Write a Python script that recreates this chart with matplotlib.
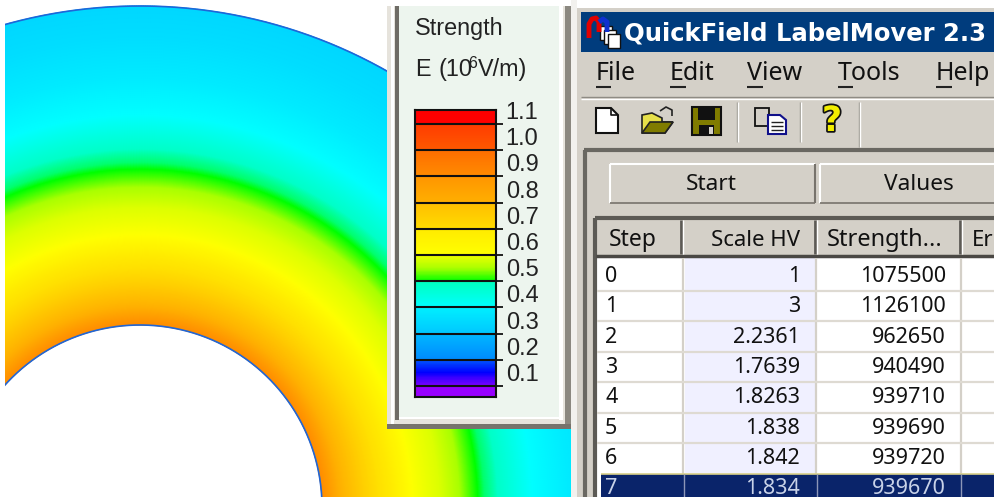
import matplotlib
matplotlib.use("Agg")
import matplotlib.pyplot as plt
import matplotlib.patheffects as pe
from matplotlib.patches import Rectangle, Polygon
from matplotlib.colors import LinearSegmentedColormap
import numpy as np

# strength read along a radius of the ring (pixels from the centre, 10^6 V/m)
radius_px = [182, 200, 225, 250, 272, 300, 320, 338, 355, 375, 392, 430, 470, 501]
strength = [0.90, 0.82, 0.74, 0.67, 0.60, 0.58, 0.55, 0.50, 0.475, 0.44, 0.41, 0.38, 0.36, 0.35]

# colours of the ring
field_values = [0.3, 0.35, 0.41, 0.47, 0.49, 0.5, 0.55, 0.6, 0.7, 0.8, 0.9]
field_colors = [(0, 190, 255), (0, 215, 255), (0, 255, 255), (0, 255, 200), (0, 255, 110), (0, 255, 0),
                (170, 255, 0), (255, 255, 0), (255, 225, 0), (255, 185, 0), (255, 140, 0)]

# colour scale
scale_values = [-0.05, 0.1, 0.101, 0.13, 0.15, 0.2, 0.201, 0.3, 0.301, 0.4, 0.401, 0.499, 0.5,
                0.55, 0.6, 0.601, 0.7, 0.701, 0.8, 0.801, 0.9, 0.901, 1.0, 1.001, 1.1, 1.101, 1.16]
scale_colors = [(160, 0, 255), (150, 0, 255), (120, 0, 255), (60, 0, 255), (0, 0, 255), (0, 90, 255),
                (0, 140, 255), (0, 185, 255), (0, 200, 255), (0, 240, 255), (0, 255, 255), (0, 255, 190),
                (0, 255, 0), (170, 255, 0), (240, 255, 0), (255, 255, 0), (255, 235, 0),
                (255, 220, 0), (255, 190, 0), (255, 175, 0), (255, 150, 0), (255, 140, 0), (255, 110, 0),
                (255, 90, 0), (255, 60, 0), (255, 0, 0), (255, 0, 0)]
legend_ticks = [0.1, 0.2, 0.3, 0.4, 0.5, 0.6, 0.7, 0.8, 0.9, 1.0, 1.1]

# table
steps = ["0", "1", "2", "3", "4", "5", "6", "7"]
scale_hv = ["1", "3", "2.2361", "1.7639", "1.8263", "1.838", "1.842", "1.834"]
strengths = ["1075500", "1126100", "962650", "940490", "939710", "939690", "939720", "939670"]
menu_items = ["File", "Edit", "View", "Tools", "Help"]

GRAY = "#d4d0c8"
NAVY = "#0a246a"
UI_FONT = "Noto Sans"


def make_cmap(name, values, colors):
    lo, hi = values[0], values[-1]
    pos = [(v - lo) / (hi - lo) for v in values]
    cols = [(r / 255, g / 255, b / 255) for r, g, b in colors]
    return LinearSegmentedColormap.from_list(name, list(zip(pos, cols)), N=2048)


legend_cmap = make_cmap("legend", scale_values, scale_colors)
field_cmap = make_cmap("field", field_values, field_colors)

fig = plt.figure(figsize=(9.95, 4.97), dpi=100, facecolor="white")
ax = fig.add_axes([0, 0, 1, 1])
ax.set_xlim(0, 995)
ax.set_ylim(497, 0)
ax.axis("off")


def rect(x0, y0, x1, y1, color, z=3):
    ax.add_patch(Rectangle((x0, y0), x1 - x0, y1 - y0, facecolor=color, edgecolor="none", zorder=z))


def line(xs, ys, color, lw=1.0, z=5):
    ax.plot(xs, ys, color=color, lw=lw, zorder=z, solid_capstyle="butt")


def label(x, y, s, ha="left", color="#111111", size=15.5, weight="normal", family=UI_FONT, z=7):
    return ax.text(x, y + 1.5, s, ha=ha, va="center", color=color, fontsize=size, fontweight=weight,
                   family=family, zorder=z)


# field ring
cx, cy = 140, 507
rr = np.linspace(radius_px[0], radius_px[-1], 320)
tt = np.linspace(0, np.pi, 700)
R, T = np.meshgrid(rr, tt)
field = np.interp(R, radius_px, strength)
clip = Rectangle((5, 0), 570, 497, transform=ax.transData)
mesh = ax.pcolormesh(cx + R * np.cos(T), cy - R * np.sin(T), field, cmap=field_cmap,
                     vmin=field_values[0], vmax=field_values[-1], shading="gouraud", zorder=1)
mesh.set_clip_path(clip)
for r0 in (radius_px[0], radius_px[-1]):
    arc, = ax.plot(cx + r0 * np.cos(tt), cy - r0 * np.sin(tt), color="#1f66d8", lw=1.2, zorder=2)
    arc.set_clip_path(clip)

# legend panel
rect(387, 6, 571, 429, "#e6e3dc")
rect(387, 424, 571, 429, "#77736c")
rect(391, 6, 394, 424, "#ffffff")
rect(395, 6, 399, 420, "#6f6c66")
rect(399, 6, 559, 417, "#edf5ee")
rect(399, 417, 559, 419, "#ffffff")
rect(559, 6, 563, 420, "#ffffff")
rect(565, 6, 571, 424, "#8b8880")
label(415, 27, "Strength", family="Liberation Sans", size=16.8, color="#222222")
label(415, 68, "E", family="Liberation Sans", size=16.8, color="#222222")
label(438, 68, "(10", family="Liberation Sans", size=16.8, color="#222222")
label(468, 62, "6", family="Liberation Sans", size=11.5, color="#222222")
label(478, 68, "V/m)", family="Liberation Sans", size=16.8, color="#222222")

# colour bar, on its own axes so the ticks come from the strength scale
bar_top, bar_bottom = 110, 397
cax = fig.add_axes([415 / 995, 1 - bar_bottom / 497, 81 / 995, (bar_bottom - bar_top) / 497], zorder=4)
y_low = 0.1 - (bar_bottom - 386) / 262
y_high = 0.1 + (386 - bar_top) / 262
vals = np.linspace(y_low, y_high, 500).reshape(-1, 1)
cax.imshow(vals, cmap=legend_cmap, vmin=scale_values[0], vmax=scale_values[-1], origin="lower", aspect="auto",
           extent=(0, 1, y_low, y_high), interpolation="nearest")
cax.hlines(legend_ticks, 0, 1, color="#111111", lw=1.5)
cax.set_xticks([])
cax.yaxis.tick_right()
cax.set_yticks(legend_ticks)
cax.set_yticklabels([f"{v:.1f}" for v in legend_ticks], family="Liberation Sans", fontsize=17, va="bottom",
                    color="#222222")
cax.tick_params(axis="y", length=5, width=1.3, pad=2, color="#111111")
for s in cax.spines.values():
    s.set_linewidth(1.5)
    s.set_color("#111111")

# application window
rect(571, 0, 577, 497, "#f2f1ee")
rect(577, 8, 995, 497, GRAY)
rect(581, 12, 995, 52, "#003c7d")
label(624, 31.5, "QuickField LabelMover 2.3", color="white", size=17.5, weight="bold", family="DejaVu Sans")

# title bar icon
for x0, y0 in ((600, 26), (604, 30), (608, 34)):
    ax.add_patch(Rectangle((x0, y0), 12, 14, facecolor="white", edgecolor="#111111", lw=1, zorder=5))
line([589, 589, 592, 596, 599, 599], [38, 24, 19, 18, 22, 32], "#e00000", 3.5, z=6)
line([599, 603, 607, 607], [22, 19, 22, 32], "#1030d0", 3.5, z=6)

# menu bar
for name, x, ux in zip(menu_items, (596, 670, 747, 838, 936), ((596, 611), (670, 686), (747, 763), (838, 853), (936, 952))):
    label(x, 71.5, name, size=18)
    line(ux, [87, 87], "#222222", 1.5)
line([581, 995], [97, 97], "#8e8b84", 1)
line([581, 995], [99, 99], "#ffffff", 1)

# toolbar icons
ax.add_patch(Polygon([(596, 108), (611, 108), (618, 115), (618, 133), (596, 133)], facecolor="white",
                     edgecolor="#111111", lw=1.5, zorder=5))
line([611, 611, 618], [108, 115, 115], "#111111", 1.2, z=6)
ax.add_patch(Polygon([(642, 133), (642, 115), (652, 113), (662, 118), (662, 122), (673, 122), (665, 133)],
                     facecolor="#e6e04a", edgecolor="#222222", lw=1.2, zorder=5))
ax.add_patch(Polygon([(642, 133), (650, 122), (673, 122), (665, 133)], facecolor="#807c00",
                     edgecolor="#222222", lw=1.2, zorder=6))
line([660, 666, 672, 672], [111, 107, 110, 116], "#222222", 1.2)
rect(692, 107, 721, 135, "#807c00", z=5)
ax.add_patch(Rectangle((692, 107), 29, 28, facecolor="none", edgecolor="#111111", lw=1.5, zorder=6))
rect(698, 108, 715, 120, "#111111", z=6)
rect(699, 125, 714, 135, "#111111", z=6)
rect(709, 127, 713, 134, "#d4d0c8", z=7)
ax.add_patch(Rectangle((755, 108), 14, 18, facecolor=GRAY, edgecolor="#111111", lw=1.3, zorder=5))
ax.add_patch(Polygon([(768, 115), (780, 115), (786, 120), (786, 134), (768, 134)], facecolor="white",
                     edgecolor="#10108a", lw=1.5, zorder=6))
for yy in (122, 126, 130):
    line([771, 783], [yy, yy], "#222222", 1, z=7)
q = ax.text(832, 121, "?", ha="center", va="center", fontsize=25, fontweight="bold", family="DejaVu Sans",
            color="#f2ee00", zorder=7)
q.set_path_effects([pe.withStroke(linewidth=2.5, foreground="#111111")])
for xs in (738, 801, 860):
    line([xs - 1, xs - 1], [102, 142 if xs < 860 else 147], "#9b9890", 1)
    line([xs, xs], [102, 142 if xs < 860 else 147], "#ffffff", 1)

# sunken frame
line([584, 995], [150, 150], "#6a6862", 3)
line([585, 585], [150, 497], "#6a6862", 3)
rect(587, 152, 995, 497, GRAY, z=3.5)

# buttons
for x0, x1, text, tx in ((610, 815, "Start", 711), (820, 1000, "Values", 919)):
    line([x0, x1], [164, 164], "white", 1.5)
    line([x0, x0], [164, 203], "white", 1.5)
    line([x0, x1], [203, 203], "#77736c", 1.2)
    line([x1, x1], [164, 203], "#77736c", 1.5)
    label(tx, 183, text, ha="center", size=16.3)

# table
line([595, 995], [218, 218], "#5c5a55", 3)
line([595, 595], [218, 497], "#5c5a55", 3)
line([596, 995], [256, 256], "#4a4844", 2.5)
rect(597, 258, 995, 497, "white", z=3.6)
rect(685, 258, 815, 476, "#f0f0ff", z=3.7)
for xs in (681, 815, 960):
    line([xs, xs], [220, 254], "#5c5a55", 2)
    line([xs + 2, xs + 2], [220, 254], "#ffffff", 1)
    line([xs + 2 if xs == 681 else xs + 1] * 2, [258, 476], GRAY, 1.6)
for yy in (291, 321, 352, 382, 413, 443):
    line([597, 995], [yy, yy], "#dedad2", 1.6)
rect(601, 474, 995, 497, NAVY, z=5)
line([601, 995], [474, 474], "#d8d08a", 1.2, z=6)
for xs in (684, 817, 961):
    line([xs, xs], [474, 497], "#8c96b8", 1, z=6)

label(609, 238.5, "Step", size=16.5)
label(800, 238.5, "Scale HV", ha="right", size=16)
label(827, 238.5, "Strength...", size=17)
label(972, 238.5, "Er", size=16)

row_y = [275, 305, 336, 366, 396, 427, 457, 487]
for i, y in enumerate(row_y):
    c = "#c8d2e8" if i == 7 else "#111111"
    label(605, y, steps[i], color=c)
    label(800, y, scale_hv[i], ha="right", color=c)
    label(946, y, strengths[i], ha="right", color=c)

fig.savefig("out.png", dpi=100)
